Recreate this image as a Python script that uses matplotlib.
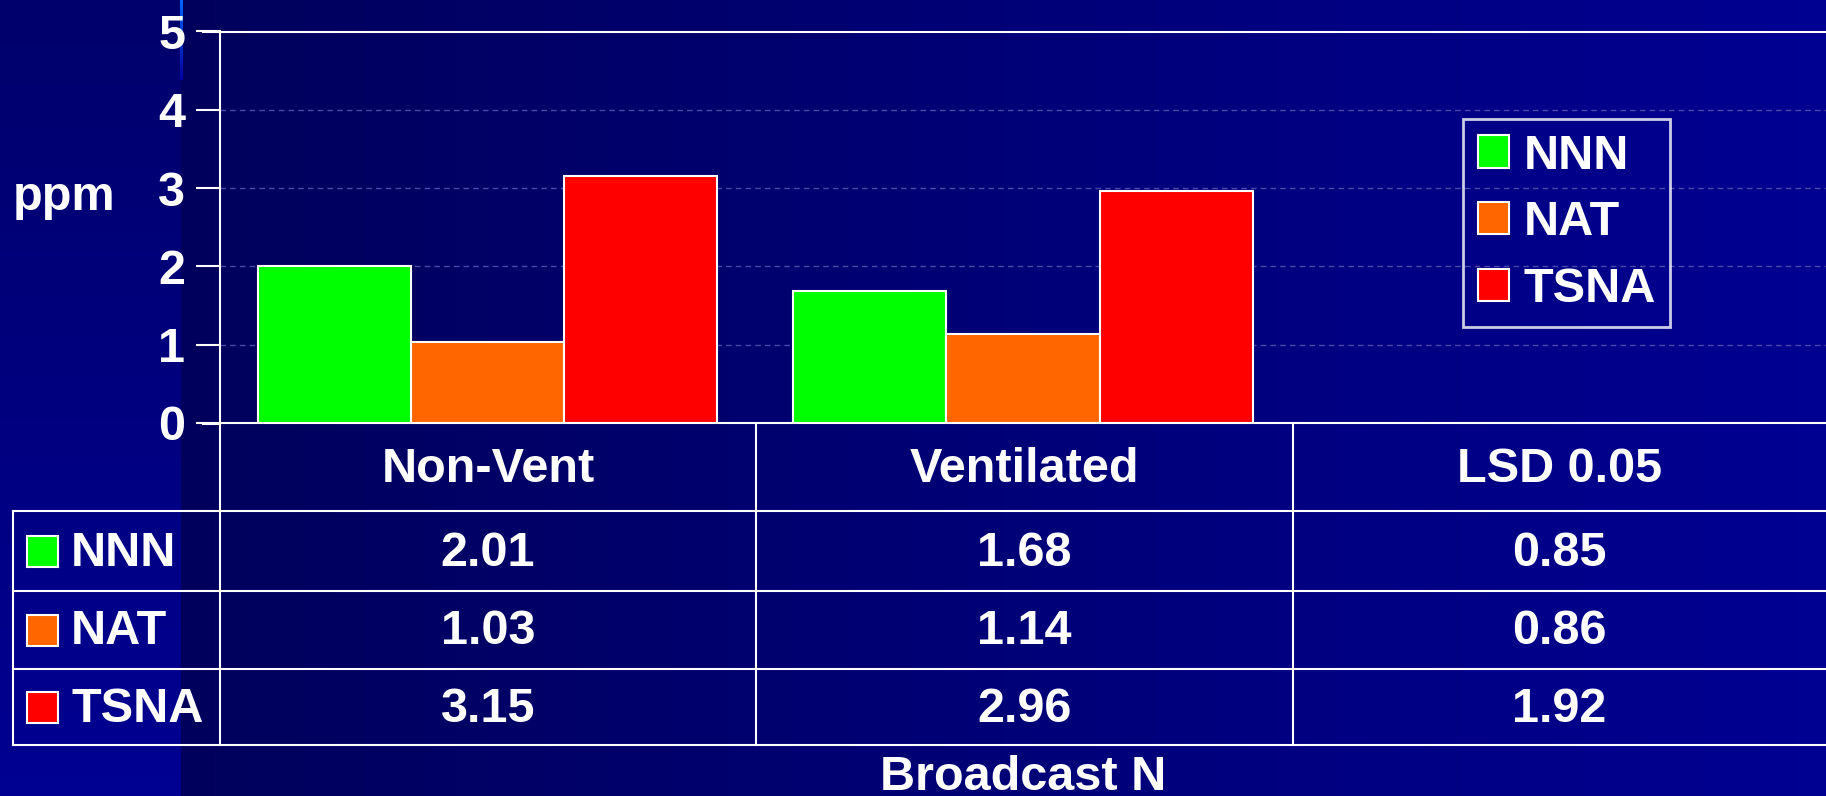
import matplotlib.pyplot as plt
from matplotlib.patches import Patch, Rectangle
import numpy as np

# datos
categorias = ['Non-Vent', 'Ventilated', 'LSD 0.05']
series = ['NNN', 'NAT', 'TSNA']
colores = ['#00ff00', '#ff6600', '#ff0000']
nnn = [2.01, 1.68, 0.85]
nat = [1.03, 1.14, 0.86]
tsna = [3.15, 2.96, 1.92]
n_barras = 2  # solo Non-Vent y Ventilated llevan barras
yticks = [0, 1, 2, 3, 4, 5]
etiqueta_y = 'ppm'
etiqueta_x = 'Broadcast N'

W, H = 1826, 796
plt.rcParams['font.family'] = ['Liberation Sans', 'DejaVu Sans']
plt.rcParams['font.weight'] = 'bold'
fig = plt.figure(figsize=(W / 100, H / 100), dpi=100)

# fondo: franja izquierda con degradado vertical, resto con degradado horizontal
bg = fig.add_axes([0, 0, 1, 1], zorder=-10)
img = np.zeros((H, W, 3))
corte = 181
ys = np.linspace(0, 1, H)[:, None]
img[:, :corte, 2] = (0x6c + (0x92 - 0x6c) * ys) / 255
xs = np.linspace(0, 1, W - corte)[None, :]
img[:, corte:, 2] = (0x5c + (0x92 - 0x5c) * xs) / 255
# línea celeste arriba del corte
largo = 80
for i in range(largo):
    f = 1 - i / largo
    img[i, corte - 1:corte + 2, 1] = 0.4 * f
    img[i, corte - 1:corte + 2, 2] = (0xa0 + (0xff - 0xa0) * f) / 255
bg.imshow(img, extent=(0, W, H, 0), aspect='auto')
bg.set_xlim(0, W)
bg.set_ylim(H, 0)
bg.axis('off')

# gráfico de barras
ax = fig.add_axes([220 / W, 1 - 423 / H, 1 - 220 / W, (423 - 31.5) / H])
ax.patch.set_alpha(0)
x = np.arange(n_barras)
ancho = 0.286
valores = [nnn, nat, tsna]
for k in range(3):
    ax.bar(x + (k - 1) * ancho, valores[k][:n_barras], ancho, color=colores[k],
           edgecolor='white', linewidth=1.5, zorder=3)
ax.set_xlim(-0.5, len(categorias) - 0.5)
ax.set_ylim(0, 5)
ax.set_yticks(yticks)
ax.set_xticks([])
ax.tick_params(axis='y', colors='white', labelsize=35, length=17, width=1.5, pad=8)
for lab in ax.get_yticklabels():
    lab.set_fontweight('bold')
ax.yaxis.grid(True, linestyle=(0, (4, 3)), color='#4a4aa8', linewidth=1.0, zorder=0)
for s in ['left', 'bottom', 'top']:
    ax.spines[s].set_color('white')
    ax.spines[s].set_linewidth(1.5)
ax.spines['right'].set_visible(False)
# etiqueta del eje y, horizontal a la izquierda
bg.text(64, 198, etiqueta_y, color='white', fontsize=35, fontweight='bold',
        ha='center', va='center')
# la línea de arriba sigue hasta la marca
bg.plot([203, 220], [31.5, 31.5], color='white', lw=1.5)

leg = ax.legend(handles=[Patch(facecolor=c, edgecolor='white', linewidth=1.5, label=s)
                         for c, s in zip(colores, series)],
                loc='upper left', bbox_to_anchor=((1463 - 220) / (W - 220), 1 - (119 - 31.5) / (423 - 31.5)),
                fontsize=35, frameon=True, fancybox=False, handlelength=0.64, handleheight=0.64,
                handletextpad=0.3, labelspacing=0.45, borderpad=0.3, borderaxespad=0)
leg.get_frame().set_facecolor('none')
leg.get_frame().set_edgecolor('white')
leg.get_frame().set_linewidth(2)
for t in leg.get_texts():
    t.set_color('white')
    t.set_fontweight('bold')

# tabla de datos debajo
col_x = [220, 756, 1293, W]
fila_y = [424, 511, 591, 669, 745]
lw = 1.5
for yy in fila_y[1:]:
    bg.plot([13, W], [yy, yy], color='white', lw=lw)
bg.plot([13, 13], [fila_y[1], fila_y[-1]], color='white', lw=lw)
for xx in col_x[:-1]:
    bg.plot([xx, xx], [fila_y[0], fila_y[-1]], color='white', lw=lw)
bg.plot([203, 220], [fila_y[0], fila_y[0]], color='white', lw=lw)

for j, cat in enumerate(categorias):
    bg.text((col_x[j] + col_x[j + 1]) / 2, (fila_y[0] + fila_y[1]) / 2 + 2, cat,
            color='white', fontsize=35, fontweight='bold', ha='center', va='center')
for i, s in enumerate(series):
    yc = (fila_y[i + 1] + fila_y[i + 2]) / 2 + 2
    bg.add_patch(Rectangle((27, yc - 17), 31, 31, facecolor=colores[i], edgecolor='white', lw=1.5))
    bg.text(71, yc, s, color='white', fontsize=35, fontweight='bold', ha='left', va='center')
    for j in range(len(categorias)):
        bg.text((col_x[j] + col_x[j + 1]) / 2, yc, '%.2f' % valores[i][j],
                color='white', fontsize=35, fontweight='bold', ha='center', va='center')

bg.text((220 + W) / 2, 777, etiqueta_x, color='white', fontsize=35,
        fontweight='bold', ha='center', va='center')

fig.savefig('out.png', dpi=100)
